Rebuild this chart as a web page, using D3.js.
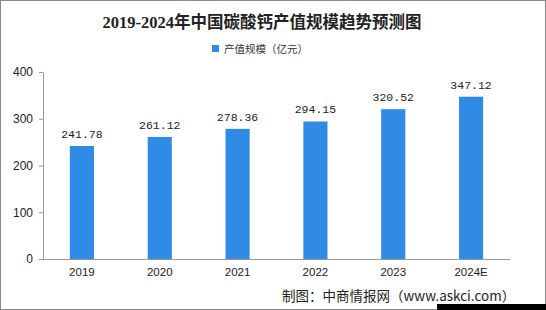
<!DOCTYPE html>
<html>
<head>
<meta charset="utf-8">
<script src="https://cdn.jsdelivr.net/npm/d3@7"></script>
<style>
  body { margin: 0; background: #fff; }
  svg { display: block; }
</style>
</head>
<body>
<svg id="chart" width="546" height="310"></svg>
<script>
// chart values
const years = ["2019", "2020", "2021", "2022", "2023", "2024E"];
const values = [241.78, 261.12, 278.36, 294.15, 320.52, 347.12];
const yTicks = [0, 100, 200, 300, 400];
const titleText = "2019-2024年中国碳酸钙产值规模趋势预测图";
const legendText = "产值规模（亿元）";
const sourceText = "制图：中商情报网（www.askci.com）";

const svg = d3.select("#chart");
const W = 546, H = 310;
const margin = {left: 43, right: 36, top: 72, bottom: 51};
const barColor = "#2f8be6";
const cjk = "'Noto Sans CJK SC', sans-serif";

// frame
svg.append("rect")
    .attr("x", 0.5).attr("y", 0.5)
    .attr("width", W - 1).attr("height", H - 1)
    .attr("fill", "#fff")
    .attr("stroke", "#8a8a8a");

const x = d3.scaleBand()
    .domain(years)
    .range([margin.left, W - margin.right])
    .paddingInner(0.69)
    .paddingOuter(0.345);

const y = d3.scaleLinear()
    .domain([0, 400])
    .range([H - margin.bottom, margin.top]);

// title
svg.append("text")
    .attr("x", 262).attr("y", 28)
    .attr("text-anchor", "middle")
    .attr("font-family", "'Liberation Serif', 'Noto Sans CJK SC', serif")
    .attr("font-weight", "bold")
    .attr("font-size", 16.5)
    .attr("fill", "#222")
    .text(titleText);

// legend
svg.append("rect")
    .attr("x", 212).attr("y", 45)
    .attr("width", 7).attr("height", 7)
    .attr("fill", barColor);
svg.append("text")
    .attr("x", 224).attr("y", 53)
    .attr("font-family", cjk)
    .attr("font-size", 10.5)
    .attr("fill", "#333")
    .text(legendText);

// y axis
const yAxis = svg.append("g")
    .attr("transform", `translate(${margin.left},0)`)
    .call(d3.axisLeft(y).tickValues(yTicks).tickSize(4).tickSizeOuter(0).tickPadding(6));
yAxis.select(".domain").attr("stroke", "#999");
yAxis.selectAll(".tick line").attr("stroke", "#999");
yAxis.selectAll(".tick text")
    .attr("font-family", "'Liberation Sans', sans-serif")
    .attr("font-size", 12)
    .attr("fill", "#222");

// x axis
const xAxis = svg.append("g")
    .attr("transform", `translate(0,${y(0)})`)
    .call(d3.axisBottom(x).tickSize(0).tickPadding(9));
xAxis.select(".domain").attr("stroke", "#999").attr("d", `M${margin.left},0.5H${W - margin.right}`);
xAxis.selectAll(".tick text")
    .attr("font-family", "'Liberation Sans', sans-serif")
    .attr("font-size", 11.5)
    .attr("fill", "#222");

// bars
svg.append("g").selectAll("rect")
    .data(values)
    .join("rect")
    .attr("x", (d, i) => x(years[i]))
    .attr("y", d => y(d))
    .attr("width", x.bandwidth())
    .attr("height", d => y(0) - y(d))
    .attr("fill", barColor);

// value labels
svg.append("g").selectAll("text")
    .data(values)
    .join("text")
    .attr("x", (d, i) => x(years[i]) + x.bandwidth() / 2)
    .attr("y", d => y(d) - 8)
    .attr("text-anchor", "middle")
    .attr("font-family", "'Liberation Mono', monospace")
    .attr("font-size", 11.5)
    .attr("fill", "#222")
    .text(d => d.toFixed(2));

// dark strip in the bottom-right corner
svg.append("rect")
    .attr("x", 437).attr("y", 304)
    .attr("width", 109).attr("height", 6)
    .attr("fill", "#000");

// source line
svg.append("text")
    .attr("x", 282).attr("y", 301)
    .attr("font-family", cjk)
    .attr("font-size", 13.5)
    .attr("fill", "#222")
    .text(sourceText);
</script>
</body>
</html>
